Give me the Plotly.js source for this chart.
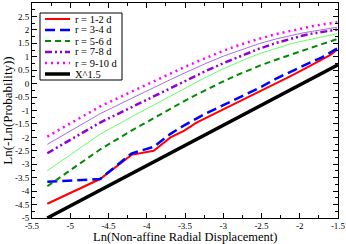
<!DOCTYPE html>
<html><head><meta charset="utf-8">
<script src="https://cdn.plot.ly/plotly-3.0.1.min.js"></script>
<style>html,body{margin:0;padding:0;background:#fff}#c{width:346px;height:244px}</style>
</head><body><div id="c"></div>
<script>
var xVals = [-5.30, -4.61, -4.20, -3.91, -3.69, -3.51, -3.35, -3.22, -3.00, -2.81, -2.66, -2.53, -2.30, -2.12, -1.97, -1.83, -1.71, -1.61, -1.51];
var r12   = [-4.47, -3.55, -2.65, -2.50, -2.00, -1.75, -1.45, -1.27, -0.95, -0.68, -0.48, -0.30, 0.03, 0.28, 0.50, 0.72, 0.88, 1.05, 1.26];
var r34   = [-3.65, -3.55, -2.60, -2.35, -1.87, -1.55, -1.30, -1.10, -0.80, -0.55, -0.33, -0.16, 0.20, 0.45, 0.65, 0.83, 0.98, 1.13, 1.31];
var r56   = [-3.82, -2.45, -1.75, -1.28, -0.93, -0.65, -0.41, -0.22, 0.08, 0.33, 0.51, 0.66, 0.90, 1.08, 1.23, 1.36, 1.47, 1.56, 1.66];
var r56b  = [-3.24, -1.88, -1.24, -0.79, -0.45, -0.18, 0.06, 0.25, 0.55, 0.79, 0.97, 1.11, 1.33, 1.48, 1.58, 1.67, 1.74, 1.80, 1.86];
var r78   = [-2.59, -1.45, -0.88, -0.47, -0.16, 0.09, 0.31, 0.48, 0.76, 0.99, 1.16, 1.30, 1.52, 1.67, 1.78, 1.87, 1.93, 1.97, 2.01];
var r78b  = [-2.26, -1.12, -0.55, -0.14, 0.15, 0.39, 0.60, 0.76, 1.02, 1.22, 1.37, 1.49, 1.67, 1.79, 1.88, 1.95, 2.00, 2.05, 2.10];
var r910  = [-1.97, -0.85, -0.30, 0.09, 0.38, 0.61, 0.81, 0.97, 1.22, 1.42, 1.56, 1.67, 1.85, 1.97, 2.06, 2.14, 2.20, 2.24, 2.28];
var powX  = [-5.30, -1.50];
var powY  = [-5.00, 0.70];
var legendNames = ["r = 1-2 d", "r = 3-4 d", "r = 5-6 d", "r = 7-8 d", "r = 9-10 d", "X^1.5"];
var xTitle = "Ln(Non-affine Radial Displacement)";
var yTitle = "Ln(-Ln(Probability))";
var xTickVals = [-5.5, -5, -4.5, -4, -3.5, -3, -2.5, -2, -1.5];
var xTickText = ["-5.5", "-5", "-4.5", "-4", "-3.5", "-3", "-2.5", "-2", "-1.5"];
var yTickVals = [-5, -4.5, -4, -3.5, -3, -2.5, -2, -1.5, -1, -0.5, 0, 0.5, 1, 1.5, 2, 2.5, 3];
var yTickText = ["-5", "-4.5", "-4", "-3.5", "-3", "-2.5", "-2", "-1.5", "-1", "-0.5", "0", "0.5", "1", "1.5", "2", "2.5", "3"];

var styles = [
  {color: "#ff0000", width: 2, dash: "solid"},
  {color: "#0000ff", width: 2.5, dash: "10px,5px"},
  {color: "#008b00", width: 2, dash: "6px,4px"},
  {color: "#9400d3", width: 2.5, dash: "7px,3px,2px,3px,2px,3px"},
  {color: "#ff00ff", width: 2.5, dash: "2px,4px"},
  {color: "#000000", width: 3.5, dash: "solid"}
];
var series = [r12, r34, r56, r78, r910];
var traces = [];
// thin unlabeled companion lines
traces.push({x: xVals, y: r78b, mode: "lines", line: {color: "#a66ee0", width: 1}, showlegend: false, hoverinfo: "skip"});
traces.push({x: xVals, y: r56b, mode: "lines", line: {color: "#66ff66", width: 1}, showlegend: false, hoverinfo: "skip"});
for (var i = 0; i < series.length; i++) {
  traces.push({x: xVals, y: series[i], mode: "lines", name: legendNames[i], line: styles[i], showlegend: false});
}
traces.push({x: powX, y: powY, mode: "lines", name: legendNames[5], line: styles[5], showlegend: false});

// plot area in pixels
var L = 32, R = 338, T = 3, B = 218;
function px(x) { return (x - L) / (R - L); }
function py(y) { return (B - y) / (B - T); }
var shapes = [], annotations = [];
var boxL = 40, boxR = 122, boxT = 13, boxB = 80;
shapes.push({type: "rect", xref: "paper", yref: "paper", x0: px(boxL), x1: px(boxR), y0: py(boxB), y1: py(boxT),
  line: {color: "#000", width: 1}, fillcolor: "#fff", layer: "above"});
for (var k = 0; k < legendNames.length; k++) {
  var yy = 19 + k * 11;
  shapes.push({type: "line", xref: "paper", yref: "paper", x0: px(45), x1: px(70), y0: py(yy), y1: py(yy),
    line: {color: styles[k].color, width: styles[k].width, dash: styles[k].dash}, layer: "above"});
  annotations.push({xref: "paper", yref: "paper", x: px(74), y: py(yy), xanchor: "left", yanchor: "middle",
    borderpad: 0, text: legendNames[k], showarrow: false, font: {family: "Liberation Serif", size: 10.5, color: "#000"}});
}
annotations.push({xref: "paper", yref: "paper", x: 0.5, y: py(237.5), xanchor: "center", yanchor: "middle",
  borderpad: 0, text: xTitle, showarrow: false, font: {family: "Liberation Serif", size: 12.5, color: "#000"}});

var axisCommon = {
  showline: true, mirror: "ticks", linecolor: "#000", linewidth: 1,
  ticks: "inside", ticklen: 5, tickcolor: "#000", tickwidth: 1,
  showgrid: false, zeroline: false, tickmode: "array",
  tickfont: {family: "Liberation Serif", size: 9, color: "#000"}
};
var layout = {
  width: 346, height: 244,
  margin: {l: L, r: 346 - R, t: T, b: 244 - B},
  paper_bgcolor: "#fff", plot_bgcolor: "#fff",
  showlegend: false,
  xaxis: Object.assign({}, axisCommon, {
    range: [-5.5, -1.5], tickvals: xTickVals, ticktext: xTickText, ticklabelstandoff: -1,
    minor: {tickmode: "linear", tick0: -5.5, dtick: 0.25, ticks: "inside", ticklen: 3, tickcolor: "#000"}
  }),
  yaxis: Object.assign({}, axisCommon, {
    range: [-5, 3], tickvals: yTickVals, ticktext: yTickText,
    minor: {tickmode: "linear", tick0: -5, dtick: 0.25, ticks: "inside", ticklen: 3, tickcolor: "#000"},
    title: {text: yTitle, standoff: 2, font: {family: "Liberation Serif", size: 13, color: "#000"}}
  }),
  shapes: shapes, annotations: annotations
};
Plotly.newPlot("c", traces, layout, {staticPlot: true, displayModeBar: false});
</script></body></html>
